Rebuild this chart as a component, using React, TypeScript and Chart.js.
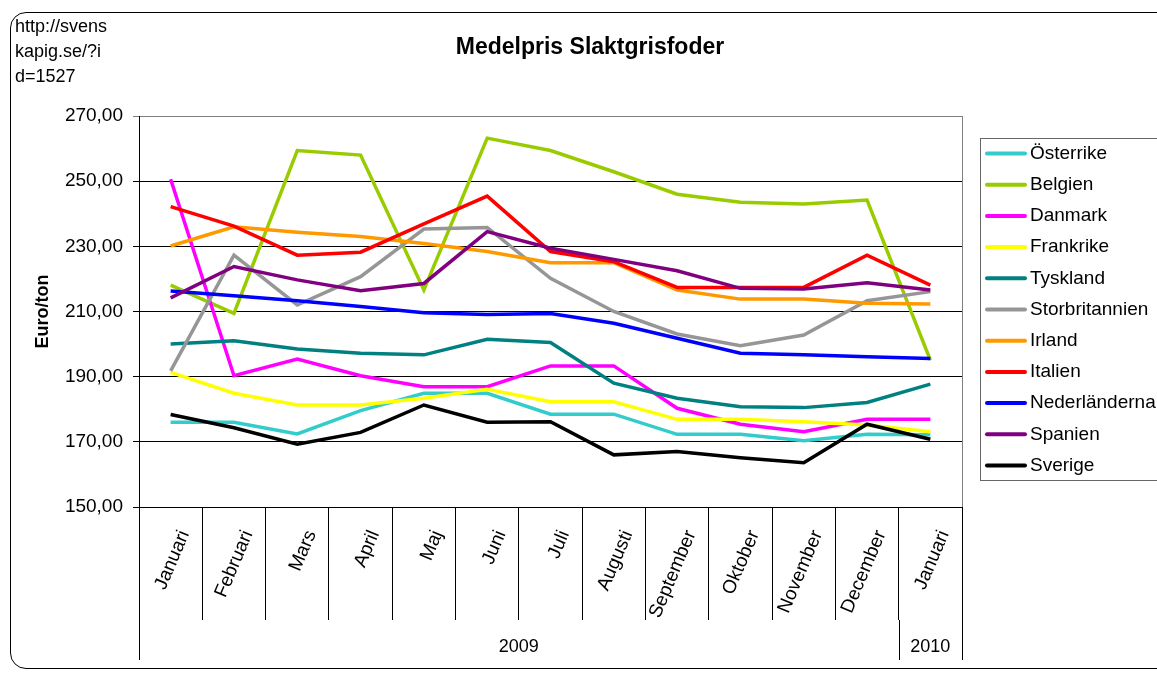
import React, { useEffect, useRef } from 'react';
import { Chart, registerables } from 'chart.js';

Chart.register(...registerables);

const FONT = "'Liberation Sans', Arial, Helvetica, sans-serif";

const months = ['Januari', 'Februari', 'Mars', 'April', 'Maj', 'Juni', 'Juli', 'Augusti', 'September', 'Oktober', 'November', 'December', 'Januari'];
const years = ['2009', '2010'];
const yearSpans = [12, 1];
const sourceLines = ['http://svens', 'kapig.se/?i', 'd=1527'];
const chartTitle = 'Medelpris Slaktgrisfoder';
const yTitle = 'Euro/ton';

const osterrike = [176.0, 176.0, 172.4, 179.6, 184.9, 184.9, 178.5, 178.5, 172.3, 172.3, 170.3, 172.3, 172.2];
const belgien = [218.1, 209.4, 259.4, 258.0, 216.6, 263.2, 259.4, 252.9, 246.0, 243.5, 243.0, 244.2, 195.1];
const danmark = [250.6, 190.3, 195.4, 190.3, 186.9, 186.9, 193.3, 193.3, 180.3, 175.4, 173.1, 176.9, 176.9];
const frankrike = [191.3, 184.9, 181.3, 181.3, 183.4, 186.1, 182.3, 182.3, 176.9, 176.9, 176.2, 175.2, 173.1];
const tyskland = [200.0, 201.0, 198.5, 197.2, 196.7, 201.5, 200.5, 188.0, 183.4, 180.8, 180.5, 182.1, 187.7];
const storbritannien = [191.8, 227.3, 212.0, 220.7, 235.3, 235.8, 220.2, 210.0, 203.1, 199.5, 202.8, 213.3, 216.1];
const irland = [230.1, 236.0, 234.3, 233.0, 230.9, 228.4, 225.0, 225.0, 216.6, 213.8, 213.8, 212.5, 212.3];
const italien = [242.2, 236.2, 227.3, 228.2, 236.9, 245.4, 228.4, 225.3, 217.4, 217.4, 217.4, 227.3, 218.1];
const nederlanderna = [216.3, 214.8, 213.3, 211.5, 209.6, 209.1, 209.4, 206.4, 201.8, 197.2, 196.7, 196.1, 195.6];
const spanien = [214.2, 223.8, 219.7, 216.4, 218.6, 234.5, 229.4, 226.0, 222.5, 217.1, 216.9, 218.8, 216.6];
const sverige = [178.4, 174.3, 169.3, 172.9, 181.3, 176.0, 176.2, 166.0, 167.0, 165.1, 163.6, 175.4, 170.8];

const seriesNames = ['Österrike', 'Belgien', 'Danmark', 'Frankrike', 'Tyskland', 'Storbritannien', 'Irland', 'Italien', 'Nederländerna', 'Spanien', 'Sverige'];
const seriesValues = [osterrike, belgien, danmark, frankrike, tyskland, storbritannien, irland, italien, nederlanderna, spanien, sverige];
const seriesColors = ['#33CCCC', '#99CC00', '#FF00FF', '#FFFF00', '#008080', '#969696', '#FF9900', '#FF0000', '#0000FF', '#800080', '#000000'];

const yMin = 150;
const yMax = 270;
const yStep = 20;

const decorPlugin = {
  id: 'decor',
  afterDraw(chart: any) {
    const { ctx, chartArea } = chart;
    const { right, top, bottom } = chartArea;
    const xs = chart.scales.x;
    const step = xs.getPixelForValue(1) - xs.getPixelForValue(0);
    ctx.save();

    // plot area right border (gray)
    ctx.strokeStyle = '#808080';
    ctx.lineWidth = 1;
    ctx.beginPath();
    const rx = Math.round(right) + 0.5;
    ctx.moveTo(rx, top);
    ctx.lineTo(rx, bottom);
    ctx.stroke();

    // group boundaries extend to bottom
    const tickBottom = xs.top + 113;
    const groupBottom = xs.top + 153;
    ctx.strokeStyle = '#000';
    let idx = 0;
    const bounds = [0];
    yearSpans.forEach((s) => { idx += s; bounds.push(idx); });
    bounds.forEach((b) => {
      const px = Math.round(xs.getPixelForValue(b) - step / 2) + 0.5;
      ctx.beginPath();
      ctx.moveTo(px, tickBottom);
      ctx.lineTo(px, groupBottom);
      ctx.stroke();
    });

    // year group labels
    ctx.fillStyle = '#000';
    ctx.font = `18px ${FONT}`;
    ctx.textAlign = 'center';
    ctx.textBaseline = 'middle';
    idx = 0;
    years.forEach((yr, i) => {
      const a = xs.getPixelForValue(idx) - step / 2;
      idx += yearSpans[i];
      const b = xs.getPixelForValue(idx) - step / 2;
      ctx.fillText(yr, (a + b) / 2, xs.top + 140);
    });

    // source text top-left
    ctx.textAlign = 'left';
    ctx.textBaseline = 'alphabetic';
    ctx.font = `18px ${FONT}`;
    sourceLines.forEach((t, i) => ctx.fillText(t, 15, 32 + i * 25));

    // legend
    const lx = 980.5;
    const ly = 138.5;
    ctx.strokeStyle = '#666';
    ctx.lineWidth = 1;
    ctx.strokeRect(lx, ly, 220, 342);
    ctx.font = `19px ${FONT}`;
    ctx.textBaseline = 'middle';
    chart.data.datasets.forEach((ds: any, i: number) => {
      const cy = 153.5 + i * 31.2;
      ctx.strokeStyle = ds.borderColor;
      ctx.lineWidth = 4;
      ctx.lineCap = 'round';
      ctx.beginPath();
      ctx.moveTo(987, cy);
      ctx.lineTo(1025, cy);
      ctx.stroke();
      ctx.fillStyle = '#000';
      ctx.fillText(ds.label, 1030, cy);
    });
    ctx.restore();
  },
};

export default function App() {
  const canvasRef = useRef<HTMLCanvasElement | null>(null);

  useEffect(() => {
    if (!canvasRef.current) return;
    const datasets = seriesNames.map((name, i) => ({
      label: name,
      data: seriesValues[i],
      borderColor: seriesColors[i],
      backgroundColor: seriesColors[i],
      borderWidth: 3.5,
      pointRadius: 0,
      tension: 0,
      order: -i,
    }));
    const chart = new Chart(canvasRef.current, {
      type: 'line',
      data: { labels: months, datasets },
      options: {
        animation: false,
        responsive: false,
        maintainAspectRatio: false,
        layout: { padding: { left: 23, right: 0, top: 0, bottom: 0 } },
        plugins: {
          legend: { display: false },
          tooltip: { enabled: false },
          title: {
            display: true,
            text: chartTitle,
            color: '#000',
            font: { family: FONT, size: 23, weight: 'bold' },
            padding: { top: 34, bottom: 54.4 },
          },
        },
        scales: {
          x: {
            type: 'category',
            offset: true,
            grid: { display: true, drawOnChartArea: false, drawTicks: true, tickLength: 113, color: '#000', offset: true },
            border: { display: true, color: '#000', width: 1 },
            ticks: {
              autoSkip: false,
              minRotation: 67,
              maxRotation: 67,
              padding: -93,
              labelOffset: 14,
              color: '#000',
              font: { family: FONT, size: 19 },
            },
            afterFit: (s: any) => { s.height = 166; s.paddingRight = 195; s.paddingLeft = 0; },
          },
          y: {
            min: yMin,
            max: yMax,
            ticks: {
              stepSize: yStep,
              padding: 10,
              color: '#000',
              font: { family: FONT, size: 19 },
              callback: (v: any) => Number(v).toFixed(2).replace('.', ','),
            },
            grid: {
              color: (c: any) => (c.tick && c.tick.value === yMax ? '#808080' : '#000'),
              tickLength: 6,
            },
            border: { display: true, color: '#000', width: 1 },
            title: {
              display: true,
              text: yTitle,
              color: '#000',
              font: { family: FONT, size: 18, weight: 'bold' },
              padding: { top: 9, bottom: 0 },
            },
            afterFit: (s: any) => { s.width = 116; },
          },
        },
      },
      plugins: [decorPlugin],
    } as any);
    return () => chart.destroy();
  }, []);

  return (
    <div style={{ position: 'fixed', left: 0, top: 0, width: 1157, height: 673, background: '#fff', overflow: 'hidden' }}>
      <div style={{ position: 'absolute', left: 10, top: 12, width: 1180, height: 655, border: '1px solid #000', borderRadius: 16 }} />
      <canvas ref={canvasRef} width={1157} height={673} style={{ position: 'absolute', left: 0, top: 0 }} />
    </div>
  );
}
